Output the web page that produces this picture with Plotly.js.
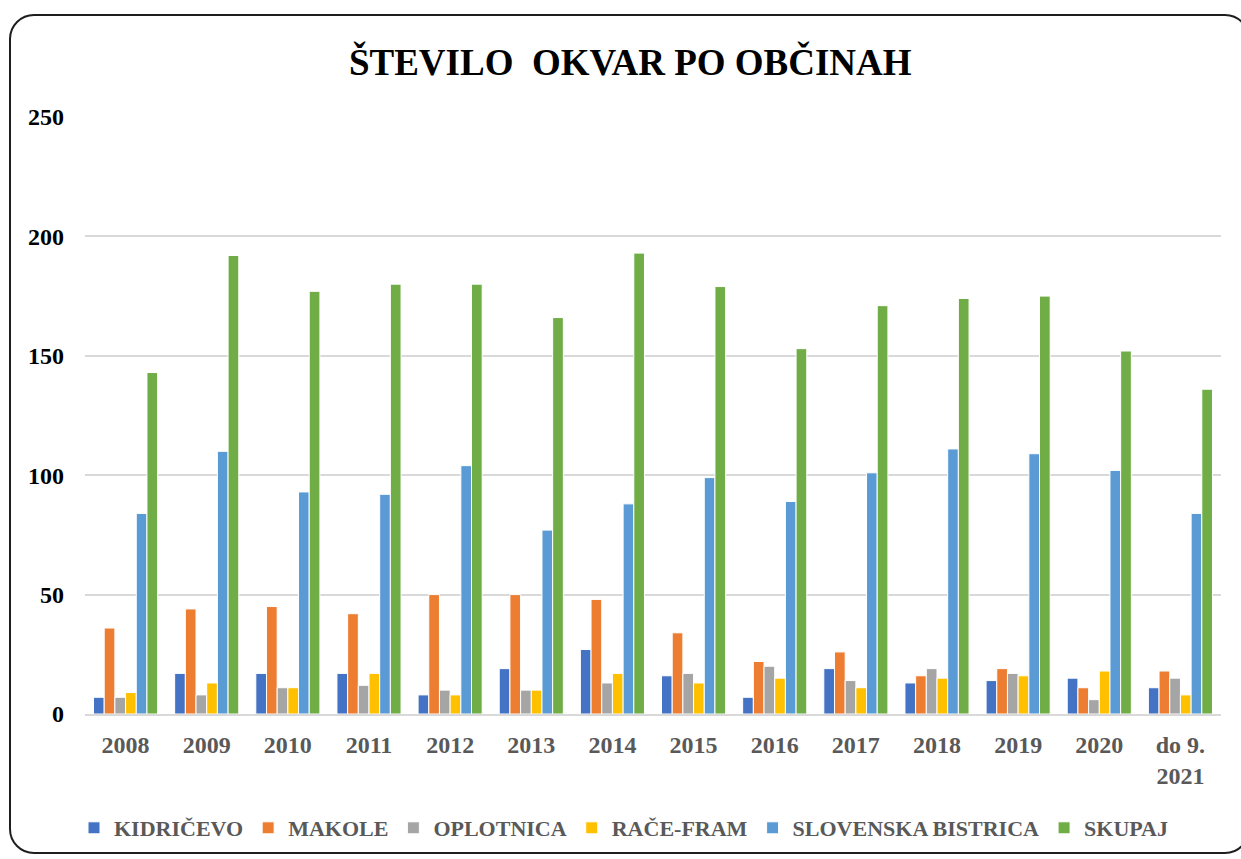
<!DOCTYPE html>
<html>
<head>
<meta charset="utf-8">
<script src="https://cdn.plot.ly/plotly-3.0.1.min.js"></script>
<style>
  html, body { margin: 0; padding: 0; overflow: hidden; background: #fff; }
  #chart { width: 1241px; height: 859px; }
  #frame { position: absolute; left: 9px; top: 14px; width: 1241px; height: 840px;
           border: 2px solid #1e1e1e; border-radius: 25px; box-sizing: border-box; pointer-events: none; }
</style>
</head>
<body>
<div id="chart"></div>
<div id="frame"></div>
<script>
const categories = ["2008","2009","2010","2011","2012","2013","2014","2015","2016","2017","2018","2019","2020","do 9.<br>2021"];
const seriesNames = ["KIDRIČEVO","MAKOLE","OPLOTNICA","RAČE-FRAM","SLOVENSKA BISTRICA","SKUPAJ"];
const kidricevo   = [7, 17, 17, 17, 8, 19, 27, 16, 7, 19, 13, 14, 15, 11];
const makole      = [36, 44, 45, 42, 50, 50, 48, 34, 22, 26, 16, 19, 11, 18];
const oplotnica   = [7, 8, 11, 12, 10, 10, 13, 17, 20, 14, 19, 17, 6, 15];
const raceFram    = [9, 13, 11, 17, 8, 10, 17, 13, 15, 11, 15, 16, 18, 8];
const slovBistrica= [84, 110, 93, 92, 104, 77, 88, 99, 89, 101, 111, 109, 102, 84];
const skupaj      = [143, 192, 177, 180, 180, 166, 193, 179, 153, 171, 174, 175, 152, 136];
const yTicks = [0, 50, 100, 150, 200, 250];

const colors = ["#4472C4","#ED7D31","#A5A5A5","#FFC000","#5B9BD5","#70AD47"];
const allValues = [kidricevo, makole, oplotnica, raceFram, slovBistrica, skupaj];

const FONT = "'Liberation Serif', 'Times New Roman', serif";

const data = allValues.map((vals, i) => ({
  type: "bar",
  name: seriesNames[i],
  x: categories,
  y: vals,
  marker: { color: colors[i], line: { color: "#ffffff", width: 1 } },
  hoverinfo: "x+y+name"
}));

const layout = {
  width: 1241, height: 859,
  margin: { l: 85, r: 20, t: 117, b: 145 },
  paper_bgcolor: "#ffffff",
  plot_bgcolor: "#ffffff",
  font: { family: FONT, size: 24, color: "#595959" },
  title: {
    text: "<b>ŠTEVILO\u00a0\u00a0OKVAR PO OBČINAH</b>",
    font: { family: FONT, size: 37, color: "#000000" },
    x: 0.48, xanchor: "center", xref: "paper",
    y: 1 - 62 / 859, yref: "container", yanchor: "middle"
  },
  barmode: "group",
  bargap: 0.21,
  bargroupgap: 0,
  xaxis: {
    type: "category",
    tickfont: { family: FONT, size: 24, color: "#595959", weight: "bold" },
    showgrid: false,
    showline: true, linecolor: "#d9d9d9", linewidth: 2,
    ticks: "",
    ticklabelstandoff: 8,
    fixedrange: true
  },
  yaxis: {
    range: [0, 250],
    tickvals: yTicks,
    ticktext: yTicks.map(String),
    tickfont: { family: FONT, size: 24, color: "#000000", weight: "bold" },
    showgrid: true, gridcolor: "#d9d9d9", gridwidth: 2,
    zeroline: false,
    showline: false,
    ticks: "",
    ticklabelstandoff: 20,
    fixedrange: true
  },
  legend: {
    orientation: "h",
    xref: "container",
    x: 624 / 1241, xanchor: "center",
    yref: "container",
    y: 1 - 828 / 859, yanchor: "middle",
    font: { family: FONT, size: 22, color: "#595959", weight: "bold" },
    itemwidth: 30,
    tracegroupgap: 0,
    traceorder: "normal"
  },
  showlegend: true
};

Plotly.newPlot("chart", data, layout, { displayModeBar: false, staticPlot: true });
</script>
</body>
</html>
